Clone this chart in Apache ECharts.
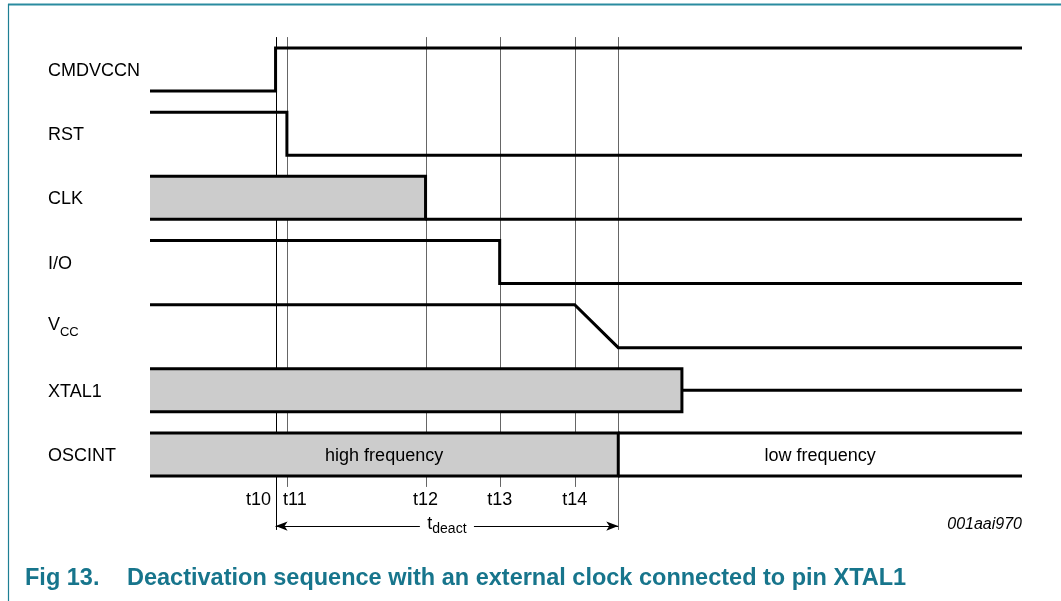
<!DOCTYPE html>
<html><head><meta charset="utf-8">
<script src="https://cdn.jsdelivr.net/npm/echarts@6/dist/echarts.min.js"></script>
<style>html,body{margin:0;padding:0;background:#fff}#c{width:1061px;height:601px}</style>
</head><body><div id="c"></div>
<script>
// ---------- data ----------
const signalNames = ['CMDVCCN', 'RST', 'CLK', 'I/O', 'VCC', 'XTAL1', 'OSCINT'];
const timeLabels = ['t10', 't11', 't12', 't13', 't14'];
const timeValues = [14.4, 15.7, 31.6, 40.1, 48.7];
const tDeactEnd = 53.7;
const xtalStop = 61.0;
const timeEnd = 100;
// waveforms: [time, level]  level 1 = high, 0 = low, 0.5 = mid
const cmdvccnWave = [[0, 0], [14.4, 0], [14.4, 1], [100, 1]];
const rstWave = [[0, 1], [15.7, 1], [15.7, 0], [100, 0]];
const clkTail = [[31.6, 0], [100, 0]];
const ioWave = [[0, 1], [40.1, 1], [40.1, 0], [100, 0]];
const vccWave = [[0, 1], [48.7, 1], [53.7, 0], [100, 0]];
const xtalTail = [[61.0, 0.5], [100, 0.5]];
const oscTopTail = [[53.7, 1], [100, 1]];
const oscBottomTail = [[53.7, 0], [100, 0]];
// active (shaded) periods: [row, start, end]
const activeBoxes = [[2, 0, 31.6], [5, 0, 61.0], [6, 0, 53.7]];
const boxTexts = ['', '', 'high frequency'];
const oscLowText = 'low frequency';
const deactLabel = 'deact';
const figureCode = '001aai970';
const figTitleNo = 'Fig 13.';
const figTitle = 'Deactivation sequence with an external clock connected to pin XTAL1';

// ---------- helpers ----------
const H = 0.67;               // low level offset inside a row
const FONT = "'Liberation Sans', Arial, sans-serif";
const toY = (row, level) => row + (1 - level) * H;
const wave = (row, pts) => pts.map(p => [p[0], toY(row, p[1])]);

const chart = echarts.init(document.getElementById('c'), null, {renderer: 'canvas'});

const lineSeries = (name, data) => ({
  name, type: 'line', data, symbol: 'none', z: 5, silent: true,
  lineStyle: {color: '#000', width: 3, join: 'miter', cap: 'butt'}
});
const textScatter = (name, data, label) => ({
  name, type: 'scatter', clip: false, silent: true, symbolSize: 0, z: 6,
  itemStyle: {opacity: 1}, data,
  label: Object.assign({show: true, opacity: 1, color: '#000', fontFamily: FONT, fontSize: 18, textBorderWidth: 0}, label)
});

const allTimes = timeValues.concat([tDeactEnd]);
const verticalData = allTimes.map((t, i) => [t, -0.17, (i === 0 || t === tDeactEnd) ? 7.51 : 6.84]);

const labelOffsets = {t10: [-17, 0], t11: [8, 0]};
const tMid = (timeValues[0] + tDeactEnd) / 2;

const option = {
  animation: false,
  grid: {left: 150, right: 39, top: 9.5, bottom: 65.3},
  xAxis: {type: 'value', min: 0, max: timeEnd, show: false},
  yAxis: {type: 'value', min: -0.6, max: 7.6, inverse: true, show: false},
  graphic: [
    {type: 'line', shape: {x1: 8, y1: 4.5, x2: 1061, y2: 4.5}, style: {stroke: '#2a8ba0', lineWidth: 2}, silent: true},
    {type: 'line', shape: {x1: 8.5, y1: 4, x2: 8.5, y2: 601}, style: {stroke: '#1e7f94', lineWidth: 1.2}, silent: true},
    {type: 'text', left: 25, top: 567, style: {text: figTitleNo, font: "bold 23.5px 'Liberation Sans', Arial, sans-serif", fill: '#17758c'}},
    {type: 'text', left: 127, top: 567, style: {text: figTitle, font: "bold 23.5px 'Liberation Sans', Arial, sans-serif", fill: '#17758c'}},
    {type: 'text', right: 39, top: 517, style: {text: figureCode, font: "italic 16px 'Liberation Sans', Arial, sans-serif", fill: '#000'}}
  ],
  series: [
    {
      name: 'timeMarks', type: 'custom', z: 1, silent: true,
      encode: {x: 0, y: [1, 2]},
      data: verticalData,
      renderItem: function (params, api) {
        const a = api.coord([api.value(0), api.value(1)]);
        const b = api.coord([api.value(0), api.value(2)]);
        const x = Math.round(a[0]) + 0.5;
        return {type: 'line', shape: {x1: x, y1: a[1], x2: x, y2: b[1]},
          style: {stroke: params.dataIndex === 0 ? '#000' : '#666', lineWidth: 1}};
      }
    },
    {
      name: 'activeBoxes', type: 'custom', z: 3, silent: true,
      encode: {x: [1, 2], y: 0},
      data: activeBoxes,
      renderItem: function (params, api) {
        const row = api.value(0);
        const tl = api.coord([api.value(1), row]);
        const br = api.coord([api.value(2), row + H]);
        const txt = boxTexts[params.dataIndex];
        const children = [
          {type: 'rect', shape: {x: tl[0], y: tl[1], width: br[0] - tl[0], height: br[1] - tl[1]}, style: {fill: '#cccccc'}},
          {type: 'polyline', shape: {points: [[tl[0], tl[1]], [br[0], tl[1]], [br[0], br[1]], [tl[0], br[1]]]},
            style: {stroke: '#000', lineWidth: 3, fill: null, lineJoin: 'miter'}}
        ];
        if (txt) {
          children.push({type: 'text', style: {text: txt, x: (tl[0] + br[0]) / 2, y: (tl[1] + br[1]) / 2 + 2,
            align: 'center', verticalAlign: 'middle', font: "18px 'Liberation Sans', Arial, sans-serif", fill: '#000'}});
        }
        return {type: 'group', children};
      }
    },
    lineSeries('CMDVCCN', wave(0, cmdvccnWave)),
    lineSeries('RST', wave(1, rstWave)),
    lineSeries('CLK', wave(2, clkTail)),
    lineSeries('I/O', wave(3, ioWave)),
    lineSeries('VCC', wave(4, vccWave)),
    lineSeries('XTAL1', wave(5, xtalTail)),
    lineSeries('OSCINT top', wave(6, oscTopTail)),
    lineSeries('OSCINT bottom', wave(6, oscBottomTail)),
    textScatter('signalNames',
      signalNames.map((n, i) => ({name: n, value: [-11.7, i + 0.36]})),
      {
        position: 'right', distance: 0,
        formatter: p => p.name === 'VCC' ? '{v|V}{s|CC}' : '{n|' + p.name + '}',
        rich: {
          n: {fontSize: 18, fontFamily: FONT, color: '#000'},
          v: {fontSize: 18, fontFamily: FONT, color: '#000', padding: [0, 0, 6, 0]},
          s: {fontSize: 13, fontFamily: FONT, color: '#000', padding: [9, 0, 0, 0]}
        }
      }),
    textScatter('timeLabels',
      timeValues.map((t, i) => ({name: timeLabels[i], value: [t, 7.05],
        label: {offset: labelOffsets[timeLabels[i]] || [0, 0]}})),
      {position: 'inside', formatter: '{b}'}),
    textScatter('lowFreq',
      [{name: oscLowText, value: [(tDeactEnd + timeEnd) / 2, 6 + H / 2 + 0.03]}],
      {position: 'inside', formatter: '{b}'}),
    Object.assign(textScatter('tdeact',
      [{name: deactLabel, value: [tMid, 7.45]}],
      {
        position: 'inside', formatter: p => '{t|t}{s|' + p.name + '}',
        rich: {
          t: {fontSize: 18, fontFamily: FONT, color: '#000', padding: [0, 0, 5, 0]},
          s: {fontSize: 14, fontFamily: FONT, color: '#000', padding: [7, 0, 0, 0]}
        }
      }), {
      markLine: {
        silent: true, animation: false, symbol: ['none', 'none'], symbolSize: [7, 12],
        label: {show: false},
        lineStyle: {color: '#000', width: 1, type: 'solid', opacity: 1},
        emphasis: {disabled: true},
        data: [
          [{coord: [timeValues[0], 7.45], symbol: 'arrow'}, {coord: [tMid - 3.1, 7.45], symbol: 'none'}],
          [{coord: [tMid + 3.1, 7.45], symbol: 'none'}, {coord: [tDeactEnd, 7.45], symbol: 'arrow'}]
        ]
      }
    })
  ]
};
chart.setOption(option);
</script>
</body></html>
